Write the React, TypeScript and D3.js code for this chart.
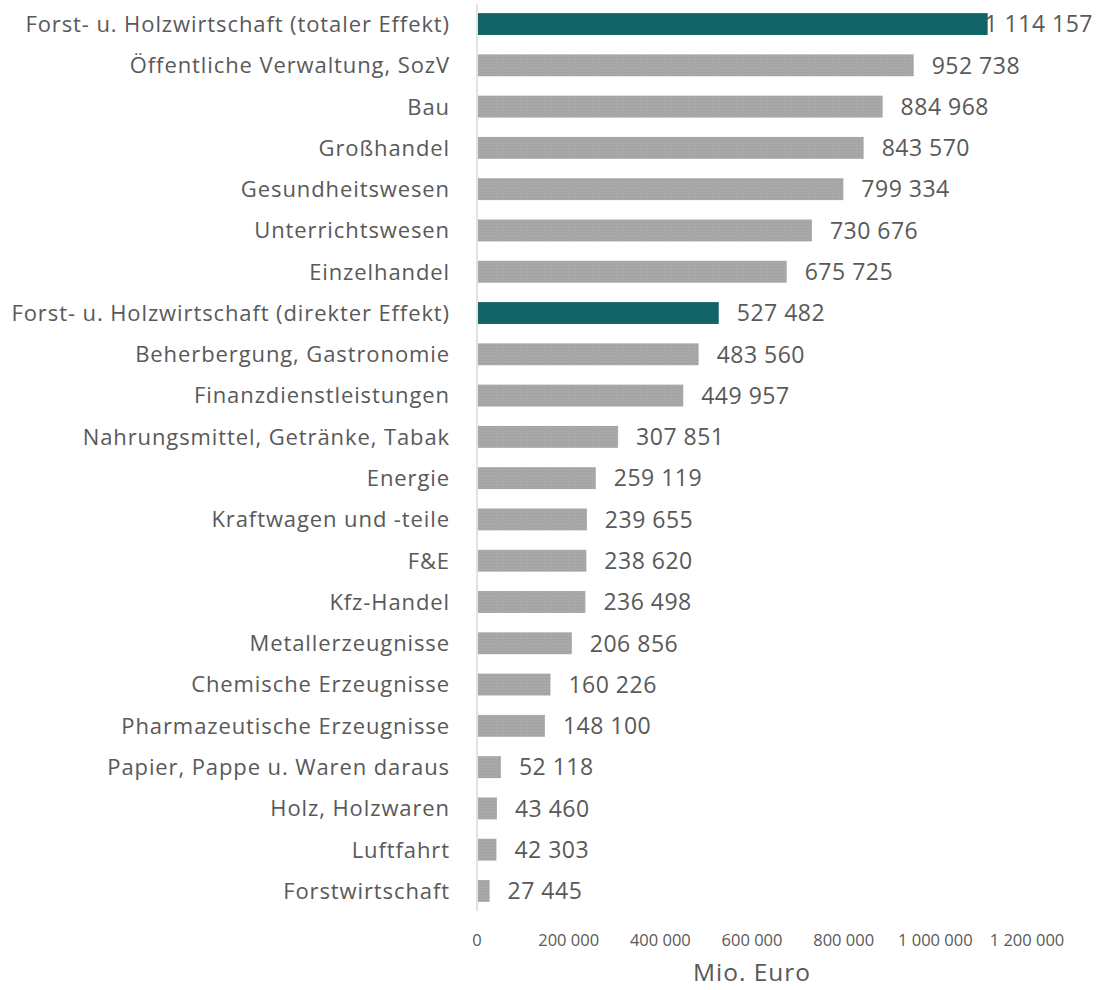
import * as d3 from "d3";

const categories = [
  "Forst- u. Holzwirtschaft (totaler Effekt)",
  "Öffentliche Verwaltung, SozV",
  "Bau",
  "Großhandel",
  "Gesundheitswesen",
  "Unterrichtswesen",
  "Einzelhandel",
  "Forst- u. Holzwirtschaft (direkter Effekt)",
  "Beherbergung, Gastronomie",
  "Finanzdienstleistungen",
  "Nahrungsmittel, Getränke, Tabak",
  "Energie",
  "Kraftwagen und -teile",
  "F&E",
  "Kfz-Handel",
  "Metallerzeugnisse",
  "Chemische Erzeugnisse",
  "Pharmazeutische Erzeugnisse",
  "Papier, Pappe u. Waren daraus",
  "Holz, Holzwaren",
  "Luftfahrt",
  "Forstwirtschaft",
];

const values = [
  1114157, 952738, 884968, 843570, 799334, 730676, 675725, 527482, 483560,
  449957, 307851, 259119, 239655, 238620, 236498, 206856, 160226, 148100,
  52118, 43460, 42303, 27445,
];

const highlighted = [
  "Forst- u. Holzwirtschaft (totaler Effekt)",
  "Forst- u. Holzwirtschaft (direkter Effekt)",
];

const xTicks = [0, 200000, 400000, 600000, 800000, 1000000, 1200000];

const W = 1097;
const H = 990;
const TEXT = "#595959";
const FONT = "'Open Sans', Lato, sans-serif";

const locale = d3.formatLocale({
  decimal: ",",
  thousands: " ",
  grouping: [3],
  currency: ["", " €"],
});
const fmt = locale.format(",d");

export default function App() {
  const x = d3.scaleLinear().domain([0, 1200000]).range([477, 1027]);
  const y = d3
    .scaleBand<string>()
    .domain(categories)
    .range([3.4, 911.6])
    .paddingInner(0.47)
    .paddingOuter(0.235);

  return (
    <svg
      width={W}
      height={H}
      style={{ position: "absolute", left: 0, top: 0, background: "#fff" }}
    >
      <defs>
        <pattern id="dots" width={3} height={3} patternUnits="userSpaceOnUse">
          <rect width={3} height={3} fill="#a8a8a8" />
          <rect width={1} height={1} fill="#9a9a9a" />
        </pattern>
      </defs>
      <line x1={x(0)} x2={x(0)} y1={4} y2={911} stroke="#d9d9d9" strokeWidth={1.5} />
      {categories.map((c, i) => {
        const v = values[i];
        const end = x(v);
        const yc = (y(c) ?? 0) + y.bandwidth() / 2;
        const label = fmt(v);
        const estW = label.length * 12.5;
        const fits = end + 18 + estW <= W - 3;
        return (
          <g key={c}>
            <rect
              x={x(0) + 1}
              y={y(c)}
              width={end - x(0) - 1}
              height={y.bandwidth()}
              fill={highlighted.includes(c) ? "#136468" : "url(#dots)"}
            />
            <text
              x={450}
              y={yc}
              dy="0.36em"
              textAnchor="end"
              fontFamily={FONT}
              fontSize={22}
              letterSpacing={0.9}
              fill={TEXT}
            >
              {c}
            </text>
            <text
              x={fits ? end + 18 : W - 4}
              y={yc}
              dy="0.36em"
              textAnchor={fits ? "start" : "end"}
              fontFamily={FONT}
              fontSize={23}
              letterSpacing={0.5}
              fill={TEXT}
            >
              {label}
            </text>
          </g>
        );
      })}
      {xTicks.map((t) => (
        <text
          key={t}
          x={x(t)}
          y={946}
          textAnchor="middle"
          fontFamily={FONT}
          fontSize={16.5}
          fill={TEXT}
        >
          {fmt(t)}
        </text>
      ))}
      <text
        x={752}
        y={981}
        textAnchor="middle"
        fontFamily={FONT}
        fontSize={24.5}
        letterSpacing={1}
        fill={TEXT}
      >
        Mio. Euro
      </text>
    </svg>
  );
}
